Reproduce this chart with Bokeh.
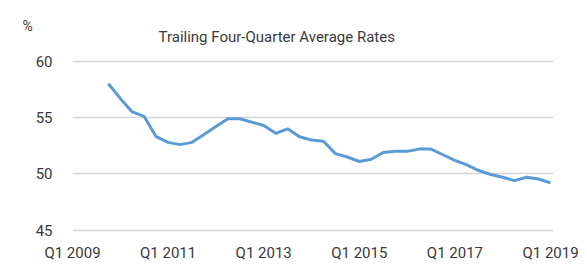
from bokeh.plotting import figure
from bokeh.models import FixedTicker, Range1d
from bokeh.core.properties import value
from bokeh.embed import file_html
from bokeh.resources import INLINE

# Data: trailing four-quarter average rate (%)
quarters = ["Q4 2009", "Q1 2010", "Q2 2010", "Q3 2010", "Q4 2010",
            "Q1 2011", "Q2 2011", "Q3 2011", "Q4 2011", "Q1 2012",
            "Q2 2012", "Q3 2012", "Q4 2012", "Q1 2013", "Q2 2013",
            "Q3 2013", "Q4 2013", "Q1 2014", "Q2 2014", "Q3 2014",
            "Q4 2014", "Q1 2015", "Q2 2015", "Q3 2015", "Q4 2015",
            "Q1 2016", "Q2 2016", "Q3 2016", "Q4 2016", "Q1 2017",
            "Q2 2017", "Q3 2017", "Q4 2017", "Q1 2018", "Q2 2018",
            "Q3 2018", "Q4 2018", "Q1 2019"]
rates = [58.0, 56.7, 55.5, 55.1, 53.3,
         52.8, 52.6, 52.8, 53.5, 54.2,
         54.9, 54.9, 54.6, 54.3, 53.6,
         54.0, 53.3, 53.0, 52.9, 51.8,
         51.5, 51.1, 51.3, 51.9, 52.0,
         52.0, 52.2, 52.2, 51.7, 51.2,
         50.8, 50.3, 49.95, 49.7, 49.4,
         49.7, 49.55, 49.2]
tick_labels = ["Q1 2009", "Q1 2011", "Q1 2013", "Q1 2015", "Q1 2017", "Q1 2019"]
y_ticks = [45, 50, 55, 60]
title_text = "Trailing Four-Quarter Average Rates"
unit_text = "%"

def q_index(label):
    q, y = label.split()
    return (int(y) - 2009) * 4 + (int(q[1]) - 1)

xs = [q_index(q) for q in quarters]
tick_pos = [q_index(t) for t in tick_labels]

FONT = "Roboto"
TXT = "#3a3a3a"

p = figure(frame_width=481, frame_height=207,
           min_border_left=72, min_border_right=26,
           min_border_top=25, min_border_bottom=32,
           x_range=Range1d(0, 40.25), y_range=Range1d(44.8, 63.17),
           output_backend="svg", toolbar_location=None)
p.outline_line_color = None
p.background_fill_color = "white"
p.border_fill_color = "white"

p.line(xs, rates, line_color="#5b9bd5", line_width=3)

# chart title, drawn inside the (taller) frame above the 60 gridline
p.text(x=[7.2], y=[62.13], text=[title_text], text_font=value(FONT),
       text_font_size="15px", text_color=TXT,
       text_align="left", text_baseline="middle")

p.xgrid.visible = False
p.ygrid.grid_line_color = "#d6d6d6"
p.ygrid.grid_line_width = 1.5
p.ygrid.ticker = FixedTicker(ticks=y_ticks)

p.yaxis.ticker = FixedTicker(ticks=y_ticks)
p.xaxis.ticker = FixedTicker(ticks=tick_pos)
p.xaxis.major_label_overrides = {pos: lab for pos, lab in zip(tick_pos, tick_labels)}

for ax in (p.xaxis[0], p.yaxis[0]):
    ax.axis_line_color = None
    ax.major_tick_line_color = None
    ax.minor_tick_line_color = None
    ax.major_tick_out = 0
    ax.major_tick_in = 0
    ax.major_label_text_font = FONT
    ax.major_label_text_font_size = "15px"
    ax.major_label_text_color = TXT
p.yaxis.major_label_standoff = 20
p.xaxis.major_label_standoff = 11

# unit marker as the y-axis label, upright, at the top end
yax = p.yaxis[0]
yax.axis_label = unit_text
yax.axis_label_text_font = FONT
yax.axis_label_text_font_size = "14px"
yax.axis_label_text_font_style = "normal"
yax.axis_label_text_color = TXT
yax.axis_label_standoff = 0
try:
    yax.axis_label_orientation = "horizontal"
    yax.axis_label_align = "end"
except Exception:
    pass

open("out.html", "w").write(file_html(p, INLINE))
